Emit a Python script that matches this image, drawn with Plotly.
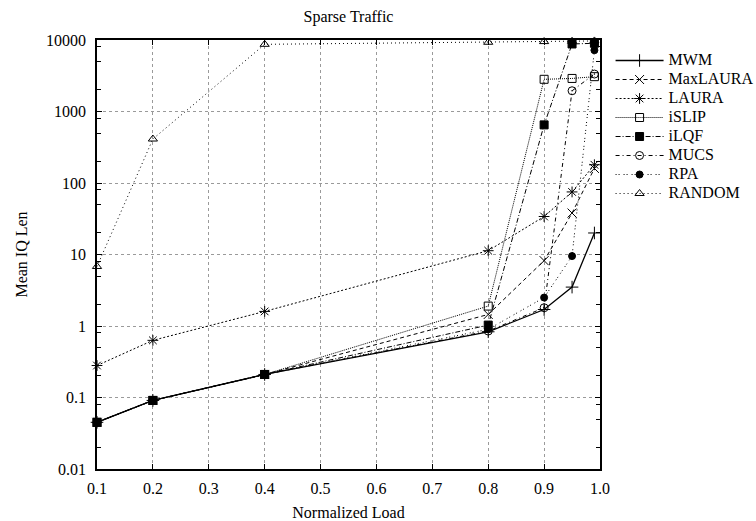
import plotly.graph_objects as go

# Offered load (x) and mean input-queue length (y) per scheduler
loads = [0.1, 0.2, 0.4, 0.8, 0.9, 0.95, 0.99]

mwm = [0.045, 0.091, 0.21, 0.83, 1.7, 3.5, 20]
maxlaura = [0.045, 0.091, 0.21, 1.45, 8.2, 38, 160]
laura = [0.28, 0.63, 1.6, 11.3, 34, 75, 180]
islip = [0.045, 0.091, 0.21, 1.9, 2820, 2900, 3070]
ilqf = [0.045, 0.091, 0.21, 1.03, 650, 8800, 9000]
mucs = [0.045, 0.091, 0.21, 0.85, 1.8, 1950, 3340]
rpa = [0.045, 0.091, 0.21, 0.9, 2.5, 9.5, 7200]
random_sched = [6.8, 412, 8700, 9300, 9500, 9600, 9700]

series_names = ["MWM", "MaxLAURA", "LAURA", "iSLIP", "iLQF", "MUCS", "RPA", "RANDOM"]
series_values = [mwm, maxlaura, laura, islip, ilqf, mucs, rpa, random_sched]

x_ticks = [0.1, 0.2, 0.3, 0.4, 0.5, 0.6, 0.7, 0.8, 0.9, 1.0]
x_tick_text = ["0.1", "0.2", "0.3", "0.4", "0.5", "0.6", "0.7", "0.8", "0.9", "1.0"]
y_ticks = [0.01, 0.1, 1, 10, 100, 1000, 10000]
y_tick_text = ["0.01", "0.1", "1", "10", "100", "1000", "10000"]
y_minor = [m * 10 ** e for e in range(-2, 4) for m in (2, 5, 8)]

# gnuplot-like line/point styles
styles = {
    "MWM": dict(dash="solid", width=1.3, symbol="cross-thin-open", size=9),
    "MaxLAURA": dict(dash="4px,3px", width=1.0, symbol="x-thin-open", size=9),
    "LAURA": dict(dash="2px,2px", width=1.0, symbol="asterisk-open", size=9),
    "iSLIP": dict(dash="1px,1px", width=1.0, symbol="square-open", size=8),
    "iLQF": dict(dash="5px,2px,1px,2px", width=1.0, symbol="square", size=8),
    "MUCS": dict(dash="4px,3px,1px,3px", width=1.0, symbol="circle-open-dot", size=8),
    "RPA": dict(dash="1px,2px,1px,4px", width=1.0, symbol="circle", size=7),
    "RANDOM": dict(dash="1px,3px", width=1.0, symbol="triangle-up-open", size=8),
}

FONT = "Liberation Serif, Times New Roman, serif"

fig = go.Figure()
for name, vals in zip(series_names, series_values):
    st = styles[name]
    fig.add_trace(go.Scatter(
        x=loads, y=vals, mode="lines+markers",
        # legend rows are spaced by the (smaller) legend font; the label itself is drawn at 16px
        name=f'<span style="font-size:16px">{name}</span>',
        cliponaxis=False,
        line=dict(color="black", width=st["width"], dash=st["dash"]),
        marker=dict(symbol=st["symbol"], size=st["size"], color="black",
                    line=dict(color="black", width=1)),
    ))

axis_common = dict(
    showline=True, linecolor="black", linewidth=1.5, mirror="allticks",
    ticks="inside", ticklen=5, tickcolor="black", tickwidth=1,
    showgrid=True, gridcolor="#9a9a9a", griddash="dot", gridwidth=1,
    zeroline=False, automargin=False,
    tickfont=dict(family=FONT, size=16, color="black"),
)

fig.update_layout(
    width=756, height=521,
    margin=dict(l=97, r=156, t=40, b=52, autoexpand=False),
    paper_bgcolor="white", plot_bgcolor="white",
    font=dict(family=FONT, size=16, color="black"),
    title=dict(text="Sparse Traffic", x=(97 + 600) / 2 / 756, xanchor="center",
               y=1 - 16 / 521, yanchor="middle",
               font=dict(family=FONT, size=16, color="black")),
    xaxis=dict(
        range=[0.1, 1.0], tickvals=x_ticks, ticktext=x_tick_text,
        title=dict(text="Normalized Load", standoff=12,
                   font=dict(family=FONT, size=16, color="black")),
        ticklabelstandoff=4,
        **axis_common,
    ),
    yaxis=dict(
        type="log", range=[-2, 4], tickvals=y_ticks, ticktext=y_tick_text,
        title=dict(text="Mean IQ Len", standoff=14,
                   font=dict(family=FONT, size=16, color="black")),
        ticklabelstandoff=6,
        minor=dict(tickvals=y_minor, ticks="inside", ticklen=4,
                   tickcolor="black", showgrid=False),
        **axis_common,
    ),
    legend=dict(
        x=1.021, xanchor="left", y=1 - 6 / 429, yanchor="top",
        bgcolor="rgba(0,0,0,0)", borderwidth=0,
        font=dict(family=FONT, size=12, color="black"),
        itemwidth=48, tracegroupgap=0,
    ),
    showlegend=True,
)

fig.write_html("out.html")
